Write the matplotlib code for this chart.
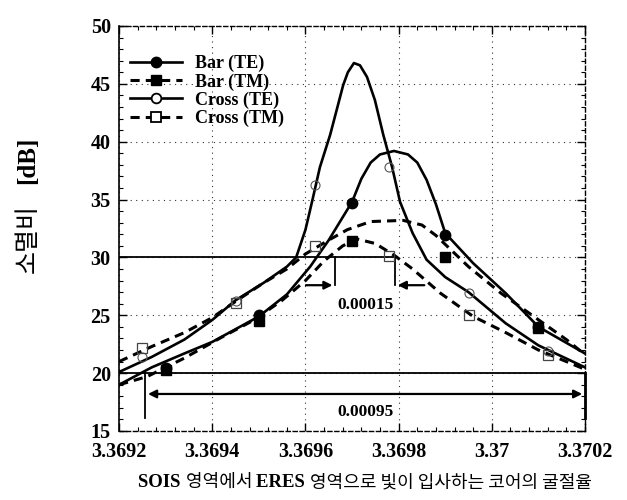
import matplotlib
matplotlib.use("Agg")
import matplotlib.pyplot as plt
from matplotlib.lines import Line2D
from matplotlib.ticker import MultipleLocator, FixedLocator, FixedFormatter
from matplotlib.offsetbox import TextArea, HPacker, AnchoredOffsetbox

# ---------------- data ----------------
bar_te_x = [3.3692, 3.36927, 3.36934, 3.3694, 3.3695, 3.36956, 3.36961, 3.36965, 3.3697,
            3.36972, 3.36974, 3.36976, 3.36979, 3.36982, 3.36984, 3.36986, 3.36988, 3.3699,
            3.36996, 3.37003, 3.3701, 3.3702]
bar_te_y = [19.0, 20.5, 21.7, 22.7, 24.9, 26.8, 29.2, 31.5, 34.8,
            36.8, 38.2, 38.9, 39.2, 38.9, 38.2, 36.7, 34.6, 32.1,
            29.5, 26.9, 24.0, 21.7]

cross_te_x = [3.3692, 3.36927, 3.36934, 3.3694, 3.36945, 3.36951, 3.36956, 3.36958, 3.3696,
              3.369614, 3.369631, 3.369653, 3.369668, 3.369681, 3.369691, 3.369704, 3.369717,
              3.369732, 3.369749, 3.369767, 3.369786, 3.369803, 3.36983, 3.36986, 3.3699,
              3.36995, 3.37003, 3.3701, 3.3702]
cross_te_y = [20.1, 21.4, 22.9, 24.6, 26.3, 27.8, 29.2, 30.0, 32.4,
              34.8, 37.8, 40.6, 42.9, 44.9, 46.0, 46.8, 46.6,
              45.6, 43.6, 40.6, 37.8, 34.8, 32.1, 29.8, 28.3,
              27.0, 24.3, 22.4, 20.5]

bar_tm_x = [3.3692, 3.36926, 3.36934, 3.36942, 3.36949, 3.36955, 3.3696, 3.36964, 3.36968,
            3.36971, 3.36975, 3.36979, 3.36983, 3.36989, 3.36996, 3.37003, 3.3701,
            3.37019, 3.3702]
bar_tm_y = [19.0, 19.7, 21.3, 23.1, 24.6, 26.3, 28.0, 29.7, 31.0,
            31.6, 31.2, 30.2, 29.0, 26.9, 24.9, 23.5, 22.0,
            20.5, 20.3]

cross_tm_x = [3.3692, 3.36927, 3.36934, 3.3694, 3.36945, 3.36951, 3.36956, 3.3696, 3.36965,
              3.36969, 3.36974, 3.36981, 3.36985, 3.36988, 3.36995, 3.37002, 3.37009,
              3.37016, 3.3702]
cross_tm_y = [21.0, 22.3, 23.5, 24.8, 26.2, 27.8, 29.0, 30.3, 31.5,
              32.4, 33.1, 33.2, 32.8, 31.9, 29.2, 26.9, 24.9,
              22.9, 21.6]

# measured points (markers)
bar_te_mx = [3.3693, 3.3695, 3.3697, 3.3699, 3.3701]
bar_te_my = [20.45, 25.0, 34.7, 31.9, 24.0]
bar_tm_mx = [3.3693, 3.3695, 3.3697, 3.3699, 3.3701]
bar_tm_my = [20.3, 24.5, 31.4, 30.0, 23.9]
cross_te_mx = [3.36925, 3.36945, 3.36962, 3.36978, 3.36995, 3.37012]
cross_te_my = [21.4, 26.2, 36.3, 37.8, 26.9, 21.9]
cross_tm_mx = [3.36925, 3.36945, 3.36962, 3.36978, 3.36995, 3.37012]
cross_tm_my = [22.2, 26.1, 31.0, 30.1, 25.0, 21.6]

labels = ["Bar (TE)", "Bar (TM)", "Cross (TE)", "Cross (TM)"]

x_ticks = [3.3692, 3.3694, 3.3696, 3.3698, 3.3700, 3.3702]
x_tick_labels = ["3.3692", "3.3694", "3.3696", "3.3698", "3.37", "3.3702"]
y_ticks = [15, 20, 25, 30, 35, 40, 45, 50]

# annotation values
level_30 = 30
level_20 = 20
bw_30_left, bw_30_right = 3.369664, 3.369792
bw_20_left, bw_20_right = 3.369256, 3.3702
label_30 = "0.00015"
label_20 = "0.00095"

# ---------------- figure ----------------
SERIF = ["Liberation Serif", "DejaVu Serif"]
plt.rcParams["font.family"] = SERIF
plt.rcParams["font.weight"] = "bold"

fig = plt.figure(figsize=(6.27, 5.0), dpi=100)
ax = fig.add_axes([0.190, 0.138, 0.743, 0.810])

solid = dict(color="black", lw=1.9, ls="-")
dashed = dict(color="black", lw=2.2, ls=(0, (3, 2)))

ax.plot(bar_te_x, bar_te_y, **solid, zorder=3)
ax.plot(cross_te_x, cross_te_y, **solid, zorder=3)
ax.plot(bar_tm_x, bar_tm_y, **dashed, zorder=3)
ax.plot(cross_tm_x, cross_tm_y, **dashed, zorder=3)

ax.plot(bar_te_mx, bar_te_my, ls="none", marker="o", ms=7.5, mfc="black", mec="black", zorder=5)
ax.plot(bar_tm_mx, bar_tm_my, ls="none", marker="s", ms=7.5, mfc="black", mec="black", zorder=5)
ax.plot(cross_te_mx, cross_te_my, ls="none", marker="o", ms=6.5, mfc="none", mec="#555555", mew=0.8, zorder=5)
ax.plot(cross_tm_mx, cross_tm_my, ls="none", marker="s", ms=6.5, mfc="none", mec="#444444", mew=0.9, zorder=5)

# annotation lines
ax.plot([3.3692, bw_30_right], [level_30, level_30], color="black", lw=1.3, zorder=4)
ax.plot([bw_30_left, bw_30_left], [level_30, 27.6], color="black", lw=1.3, zorder=4)
ax.plot([bw_30_right, bw_30_right], [level_30, 27.6], color="black", lw=1.3, zorder=4)
ax.annotate("", xy=(bw_30_left, 27.6), xytext=(3.369595, 27.6),
            arrowprops=dict(arrowstyle="-|>", color="black", lw=1.6, mutation_scale=12))
ax.annotate("", xy=(bw_30_right, 27.6), xytext=(3.369861, 27.6),
            arrowprops=dict(arrowstyle="-|>", color="black", lw=1.6, mutation_scale=12))
ax.text((bw_30_left + bw_30_right) / 2, 25.9, label_30, ha="center", va="center",
        fontsize=12.5, fontweight="bold")

ax.plot([3.3692, 3.3702], [level_20, level_20], color="black", lw=1.3, zorder=4)
ax.plot([bw_20_left, bw_20_left], [level_20, 16.1], color="black", lw=1.3, zorder=4)
ax.plot([bw_20_right, bw_20_right], [level_20, 16.1], color="black", lw=2.0, zorder=4, clip_on=False)
ax.annotate("", xy=(bw_20_right, 18.2), xytext=(bw_20_left, 18.2),
            arrowprops=dict(arrowstyle="<|-|>", color="black", lw=1.6, mutation_scale=12))
ax.text((bw_30_left + bw_30_right) / 2, 16.6, label_20, ha="center", va="center",
        fontsize=12.5, fontweight="bold")

# axes styling
ax.set_xlim(3.3692, 3.3702)
ax.set_ylim(15, 50)
ax.xaxis.set_major_locator(FixedLocator(x_ticks))
ax.xaxis.set_major_formatter(FixedFormatter(x_tick_labels))
ax.xaxis.set_minor_locator(MultipleLocator(0.00004))
ax.yaxis.set_major_locator(FixedLocator(y_ticks))
ax.yaxis.set_minor_locator(MultipleLocator(1))
ax.tick_params(which="both", direction="in", top=True, right=True, color="black")
ax.tick_params(which="major", length=6, width=1.0, labelsize=14.5)
ax.tick_params(axis="x", which="major", pad=8)
ax.tick_params(axis="y", which="major", pad=6)
ax.tick_params(which="minor", length=3, width=0.8)
for lab in ax.get_xticklabels() + ax.get_yticklabels():
    lab.set_fontweight("bold")

ax.grid(True, which="major", ls=(0, (1, 4)), color="black", lw=0.8, alpha=0.8)

ax.spines["left"].set_linewidth(1.2)
for s in ["top", "right", "bottom"]:
    ax.spines[s].set_linewidth(1.0)
    ax.spines[s].set_linestyle((0, (3, 2)))

# legend
handles = [
    Line2D([], [], color="black", lw=1.9, ls="-", marker="o", ms=7.5, mfc="black"),
    Line2D([], [], color="black", lw=2.2, ls=(0, (3, 2)), marker="s", ms=7.5, mfc="black"),
    Line2D([], [], color="black", lw=1.9, ls="-", marker="o", ms=7, mfc="white", mew=1.3),
    Line2D([], [], color="black", lw=2.2, ls=(0, (3, 2)), marker="s", ms=7, mfc="white", mew=1.3),
]
leg = ax.legend(handles, labels, loc="upper left", bbox_to_anchor=(0.0, 0.955),
                frameon=False, handlelength=2.9, handletextpad=0.7, labelspacing=0.05,
                borderaxespad=0.2, prop=dict(family=SERIF, weight="bold", size=13))

# x label: mixed fonts
lat = dict(family=SERIF, weight="bold", size=13.5)
kor = dict(family=["Noto Sans CJK KR"], weight="normal", size=13)
parts = [("SOIS ", lat), ("영역에서 ", kor), ("ERES ", lat),
         ("영역으로 빛이 입사하는 코어의 굴절율", kor)]
box = HPacker(children=[TextArea(t, textprops=p) for t, p in parts], align="baseline", pad=0, sep=0)
anch = AnchoredOffsetbox(loc="center", child=box, frameon=False,
                         bbox_to_anchor=(365 / 627, 1 - 482 / 500), bbox_transform=fig.transFigure,
                         borderpad=0, pad=0)
fig.add_artist(anch)

# y label: mixed fonts, rotated (Korean part at bottom, "[dB]" above it)
yx = 28 / 627
fig.text(yx, 1 - 273 / 500, "소멸비", rotation=90, rotation_mode="anchor", ha="left", va="center",
         family=["Noto Sans CJK KR"], fontsize=18, fontweight="normal")
fig.text(yx, 1 - 137 / 500, "[dB]", rotation=90, rotation_mode="anchor", ha="right", va="center",
         family=SERIF, fontsize=18, fontweight="bold")

fig.savefig("out.png", dpi=100)
